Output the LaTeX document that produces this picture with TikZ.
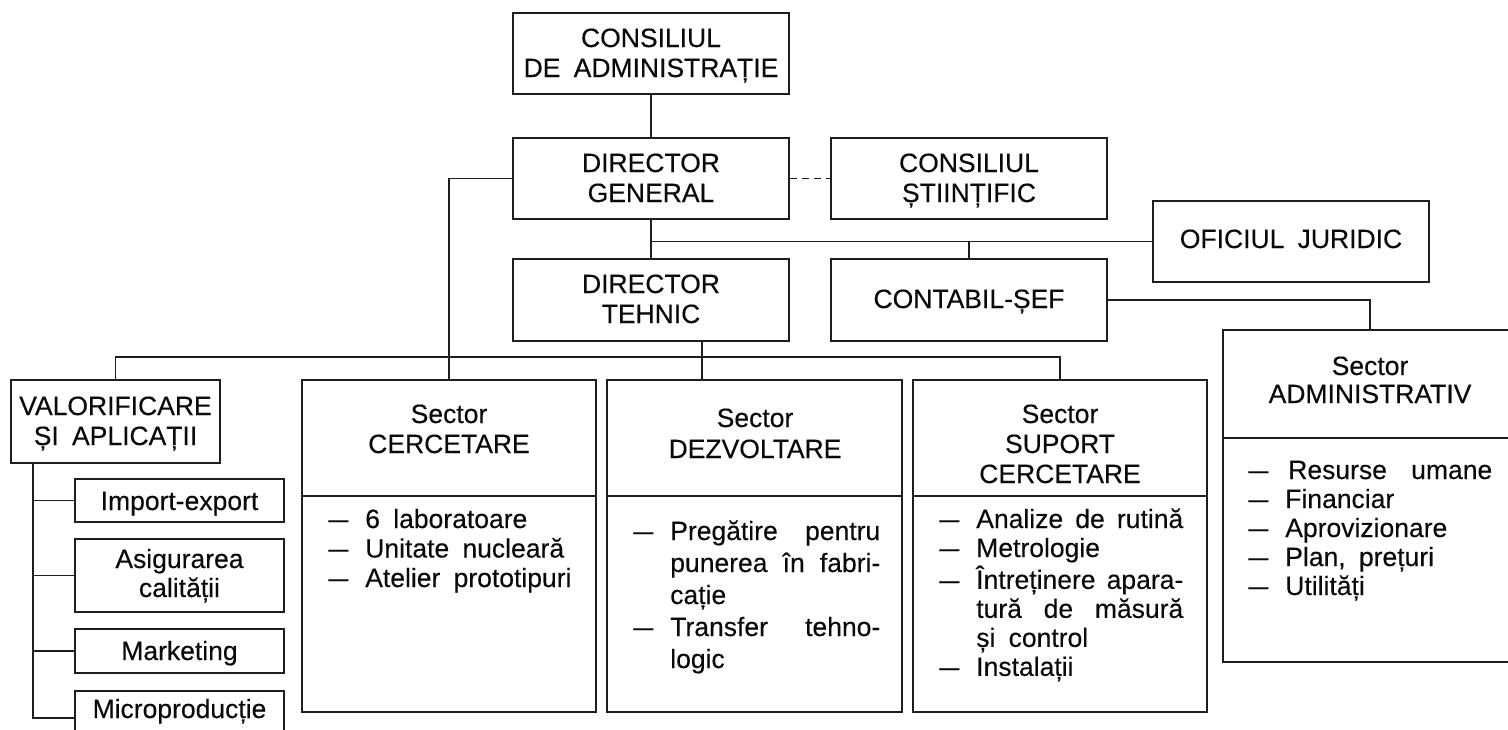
\documentclass[tikz,border=0pt]{standalone}
\usepackage{graphicx}
\usepackage{fontspec}
\setmainfont[WordSpace=1.8,FakeBold=0.25]{Liberation Sans}
\usetikzlibrary{fit}
\definecolor{ln}{RGB}{30,30,30}
\definecolor{tc}{RGB}{10,10,10}
\newcommand{\ml}[1]{\begin{tabular}[t]{@{}c@{}}#1\end{tabular}}
\newcommand{\ls}[1]{\begin{tabular}[t]{@{}l@{\hspace{8.5pt}}l@{}}#1\end{tabular}}
\newcommand{\dsh}{\scalebox{0.75}[1]{—}}
\newcommand{\jw}[2]{\makebox[#1][s]{#2}}
\begin{document}
\begin{tikzpicture}[x=0.5pt,y=-0.5pt,
  bx/.style={draw=ln,line width=0.85pt,inner sep=0pt,rectangle},
  tx/.style={inner sep=0pt,anchor=base,text=tc,font=\fontsize{13.25}{15}\selectfont},
  lst/.style={inner sep=0pt,anchor=base west,text=tc},
  conn/.style={draw=ln,line width=0.85pt},
  dconn/.style={draw=ln,line width=0.85pt,dash pattern=on 3.5pt off 2.5pt}]
\useasboundingbox (0,0) rectangle (1508,729);
\fill[white] (0,0) rectangle (1508,729);
% boxes
\node[bx,fit={(513,13)(789,94)}] (ca) {};
\node[bx,fit={(513,138)(789,219)}] (dg) {};
\node[bx,fit={(831,138)(1107,219)}] (csti) {};
\node[bx,fit={(1153,201)(1429,282)}] (oj) {};
\node[bx,fit={(513,259)(789,341)}] (dt) {};
\node[bx,fit={(831,259)(1107,341)}] (cf) {};
\node[bx,fit={(11,380)(220,463)}] (val) {};
\node[bx,fit={(75,479)(284,522)}] (ie) {};
\node[bx,fit={(75,539)(284,612)}] (aq) {};
\node[bx,fit={(75,629)(284,673)}] (mk) {};
\node[bx,fit={(75,691)(284,745)}] (mp) {};
\node[bx,fit={(302,380)(596,712)}] (cer) {};
\node[bx,fit={(607,380)(902,712)}] (dez) {};
\node[bx,fit={(913,380)(1207,712)}] (sup) {};
\node[bx,fit={(1223,330)(1517,662)}] (sa) {};
% helper coordinates
\coordinate (busy) at (0,357);
\coordinate (dtx) at (702,0);
\coordinate (trunk) at (33,0);
\coordinate (divA) at (0,496);
\coordinate (divB) at (0,438);
% dividers
\draw[conn] (cer.west |- divA) -- (cer.east |- divA);
\draw[conn] (dez.west |- divA) -- (dez.east |- divA);
\draw[conn] (sup.west |- divA) -- (sup.east |- divA);
\draw[conn] (sa.west |- divB) -- (sa.east |- divB);
% connectors
\draw[conn] (ca.south) -- (dg.north);
\draw[dconn] (dg.east) -- (csti.west);
\draw[conn] (dg.south) -- (dt.north);
\draw[conn] (dg.south |- oj.west) -- (oj.west);
\draw[conn] (cf.north) -- (cf.north |- oj.west);
\draw[conn] (cf.east) -| (sa.north);
\draw[conn] (dg.west) -| (cer.north);
\draw[conn] (val.north) |- (busy -| sup.north) -- (sup.north);
\draw[conn] (dt.south -| dtx) -- (dez.north -| dtx);
\draw[conn] (val.south -| trunk) |- (mp.west);
\draw[conn] (trunk |- ie.west) -- (ie.west);
\draw[conn] (trunk |- aq.west) -- (aq.west);
\draw[conn] (trunk |- mk.west) -- (mk.west);
% texts
\node[tx] (tca) at (651,47) {\ml{CONSILIUL\\DE ADMINISTRAȚIE}};
\node[tx] (tdg) at (651,172) {\ml{DIRECTOR\\GENERAL}};
\node[tx] (tcs) at (969,172) {\ml{CONSILIUL\\ȘTIINȚIFIC}};
\node[tx] (toj) at (1291,248) {OFICIUL JURIDIC};
\node[tx] (tdt) at (651,293) {\ml{DIRECTOR\\TEHNIC}};
\node[tx] (tcf) at (969,308) {CONTABIL-ȘEF};
\node[tx] (tval) at (115.5,415) {\ml{VALORIFICARE\\ȘI APLICAȚII}};
\node[tx] (tie) at (179.5,510) {Import-export};
\node[tx,font=\fontsize{13.25}{14.5}\selectfont] (taq) at (179.5,568) {\ml{Asigurarea\\calității}};
\node[tx] (tmk) at (179.5,660) {Marketing};
\node[tx] (tmp) at (179.5,718) {Microproducție};
\node[tx] (tcer) at (449,423) {\ml{Sector\\CERCETARE}};
\node[tx,font=\fontsize{13.25}{15.5}\selectfont] (tdez) at (755,427) {\ml{Sector\\DEZVOLTARE}};
\node[tx] (tsup) at (1060,423) {\ml{Sector\\SUPORT\\CERCETARE}};
\node[tx,font=\fontsize{13.25}{14}\selectfont] (tsa) at (1370,375) {\ml{Sector\\ADMINISTRATIV}};
% lists
\node[lst,font=\fontsize{13.25}{14.75}\selectfont] (lcer) at (328,528)
  {\ls{\dsh & 6 laboratoare\\ \dsh & Unitate nucleară\\ \dsh & Atelier prototipuri}};
\node[lst,font=\fontsize{13.25}{16}\selectfont] (ldez) at (633,540)
  {\ls{\dsh & \jw{105pt}{Pregătire pentru}\\ & \jw{105pt}{punerea în fabri-}\\ & cație\\ \dsh & \jw{105pt}{Transfer tehno-}\\ & logic}};
\node[lst,font=\fontsize{13.25}{14.5}\selectfont] (lsup) at (939,528)
  {\ls{\dsh & \jw{103.5pt}{Analize de rutină}\\ \dsh & Metrologie\\ \dsh & \jw{103.5pt}{Întreținere apara-}\\ & \jw{103.5pt}{tură de măsură}\\ & și control\\ \dsh & Instalații}};
\node[lst,font=\fontsize{13.25}{14.5}\selectfont] (lsa) at (1248,479)
  {\ls{\dsh & \hspace{1.5pt}\jw{102pt}{Resurse umane}\\ \dsh & Financiar\\ \dsh & Aprovizionare\\ \dsh & Plan, prețuri\\ \dsh & Utilități}};
\end{tikzpicture}
\end{document}
